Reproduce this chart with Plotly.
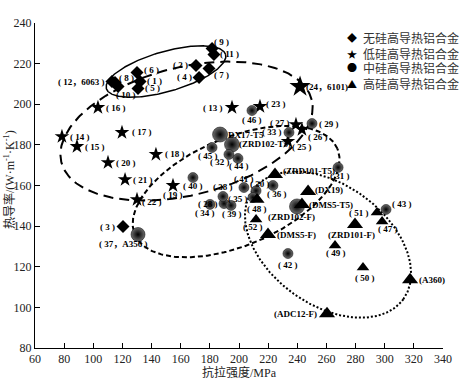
import numpy as np
import plotly.graph_objects as go

# ---------------- data ----------------
# 无硅高导热铝合金 (diamonds)
ns_labels = ["( 1 )", "( 2 )", "( 3 )", "( 4 )", "( 5 )", "( 6 )", "( 7 )", "( 8 )",
             "( 9 )", "( 10 )", "( 11 )", "( 12，6063 )"]
ns_x = [132.1, 170.5, 120.4, 172.6, 130.7, 130.0, 179.4, 114.9, 181.5, 117.0, 182.8, 112.8]
ns_y = [211.2, 219.1, 139.8, 213.2, 207.8, 215.6, 217.6, 210.7, 227.4, 208.7, 224.5, 211.2]

# 低硅高导热铝合金 (stars)
ls_labels = ["( 13 )", "( 14 )", "( 15 )", "( 16 )", "( 17 )", "( 18 )", "( 19 )", "( 20 )",
             "( 21 )", "( 22 )", "( 23 )", "(24，6101)", "( 25 )", "( 26 )", "( 27 )"]
ls_x = [195.2, 78.5, 88.8, 103.2, 119.7, 143.0, 154.7, 110.1, 121.8, 130.0, 214.4, 241.9, 233.6, 243.2, 239.1]
ls_y = [198.4, 184.1, 179.2, 198.4, 186.1, 175.3, 160.0, 171.3, 162.9, 153.1, 198.9, 208.7, 181.7, 187.6, 190.0]

# 中硅高导热铝合金 (balls)
ms_labels = ["DX17-T5", "(ZRD102-T5)", "( 28 )", "( 29 )", "( 30 )", "( 31 )", "( 32 )", "( 33 )",
             "( 34 )", "( 35 )", "( 36 )", "( 37，A356 )", "( 38 )", "( 39 )", "( 40 )", "( 41 )",
             "( 42 )", "( 43 )", "( 44 )", "( 45 )", "( 46 )", "(ZRD102-F)"]
ms_x = [187.0, 195.2, 189.7, 250.1, 211.7, 268.0, 193.1, 234.3, 180.1, 209.6, 223.3, 130.7,
        189.0, 194.5, 168.4, 203.4, 233.6, 300.9, 199.3, 181.5, 208.9, 239.8]
ms_y = [185.1, 180.2, 151.1, 190.5, 157.4, 168.9, 175.3, 186.1, 150.7, 154.1, 160.0, 135.9,
        154.6, 150.2, 163.9, 159.0, 126.5, 148.2, 173.3, 178.7, 196.9, 149.7]

# 高硅高导热铝合金 (triangles)
hs_labels = ["(ZRD101-T5)", "(DX19)", "(DMS5-T5)", "( 47 )", "( 48 )", "( 49 )", "( 50 )",
             "( 51 )", "( 52 )", "(DMS5-F)", "(ZRD101-F)", "(A360)", "(ADC12-F)"]
hs_x = [224.7, 247.4, 243.2, 298.2, 212.4, 265.9, 285.1, 294.7, 211.7, 219.9, 279.6, 317.4, 260.4]
hs_y = [165.4, 157.0, 150.6, 142.3, 153.1, 130.5, 119.6, 146.7, 143.3, 135.9, 140.8, 113.6, 96.9]

series_names = ["无硅高导热铝合金", "低硅高导热铝合金", "中硅高导热铝合金", "高硅高导热铝合金"]
x_ticks = list(range(60, 341, 20))
y_ticks = list(range(80, 241, 20))
x_title = "抗拉强度/MPa"
y_title = "热导率/(W·m<sup>-1</sup>·K<sup>-1</sup>)"

# ---------------- styles / positions ----------------
W, H = 462, 382
ML, MR, MT, MB = 35, 19, 23, 34
PW, PH = W - ML - MR, H - MT - MB
SX = PW / 280.0
SY = PH / 160.0

BIG = {"DX17-T5": 15, "(ZRD102-T5)": 15, "(ZRD102-F)": 15, "( 37，A356 )": 14,
       "(24，6101)": 16,
       "(ZRD101-T5)": 14, "(DX19)": 14, "(DMS5-T5)": 14, "(DMS5-F)": 14, "(ZRD101-F)": 14,
       "(A360)": 14, "(ADC12-F)": 14, "( 48 )": 13}

# label offsets: (anchor, dx px, dy px downward)
ns_off = [("l", 5, -1), ("r", -6, 0), ("r", -6, 0), ("r", -5, 0), ("l", 5, 0), ("l", 5, -3),
          ("l", 3, 6), ("l", 2, -5), ("l", 0, -7), ("c", 8, 8), ("l", 4, 0), ("r", -5, 0)]
ls_off = [("r", -7, 0), ("l", 6, 0), ("l", 6, 0), ("l", 6, 0), ("l", 8, 0), ("l", 7, 0),
          ("c", 0, 9), ("l", 6, 0), ("l", 6, 0), ("l", 3, 2), ("l", 4, -2), ("l", 4, 0),
          ("l", 2, 6), ("l", 4, 8), ("r", -4, -2)]
ms_off = [("l", 6, 0), ("l", 5, 0), ("r", -4, 0), ("l", 5, 0), ("c", 4, -7), ("c", 2, 9),
          ("c", -9, 8), ("r", -5, 0), ("c", -5, 9), ("r", -3, 2), ("c", 4, 8), ("r", 12, 10),
          ("c", 0, -9), ("c", 1, 9), ("c", 0, 8), ("c", 0, -9), ("c", 0, 11), ("l", 4, -5),
          ("c", 1, 8), ("c", -4, 8), ("c", 0, 9), ("c", -5, 11)]
hs_off = [("l", 6, -4), ("l", 5, -2), ("l", 5, 0), ("c", 6, 8), ("c", 0, 9), ("c", 1, 8),
          ("c", 2, 10), ("r", -6, 0), ("c", -3, 8), ("l", 7, 1), ("c", -3, 10), ("l", 7, 0),
          ("r", -8, 0)]

# ellipses: centre (data), semi-axes (px), tilt (deg, up-right positive), dash
ELLIPSES = [
    (149.9, 216.1, 62, 20, 16, "solid", 1.5),
    (164.0, 186.8, 129, 64, 14, "10px,6px", 2),
    (198.0, 157.0, 110, 54, 23, "5px,3px", 2),
    (261.1, 130.9, 93, 60, -36, "2px,2px", 2),
]

LABEL_FONT = dict(family="Liberation Serif, Noto Sans CJK SC", size=9, color="black")

fig = go.Figure()

t = np.linspace(0, 2 * np.pi, 300)
for cx, cy, a, b, ang, dash, lw in ELLIPSES:
    ph = np.deg2rad(ang)
    u, v = a * np.cos(t), b * np.sin(t)
    dx = u * np.cos(ph) - v * np.sin(ph)
    dy = u * np.sin(ph) + v * np.cos(ph)
    fig.add_trace(go.Scatter(x=cx + dx / SX, y=cy + dy / SY, mode="lines",
                             line=dict(color="black", width=lw, dash=dash),
                             hoverinfo="skip", showlegend=False))


def sizes(labels, base):
    return [BIG.get(l, base) for l in labels]


fig.add_trace(go.Scatter(x=ns_x, y=ns_y, mode="markers", name=series_names[0],
                         marker=dict(symbol="diamond", size=sizes(ns_labels, 10), color="black",
                                     opacity=1, line=dict(width=0)), showlegend=False))
fig.add_trace(go.Scatter(x=ls_x, y=ls_y, mode="markers", name=series_names[1],
                         marker=dict(symbol="star", size=sizes(ls_labels, 11), color="black",
                                     opacity=1, line=dict(width=0)), showlegend=False))
fig.add_trace(go.Scatter(x=ms_x, y=ms_y, mode="markers", name=series_names[2],
                         marker=dict(symbol="circle", size=sizes(ms_labels, 10), color="#6e6e6e",
                                     opacity=1, gradient=dict(type="radial", color="black"),
                                     line=dict(width=0.5, color="black")), showlegend=False))
fig.add_trace(go.Scatter(x=hs_x, y=hs_y, mode="markers", name=series_names[3],
                         marker=dict(symbol="triangle-up", size=sizes(hs_labels, 11), color="black",
                                     opacity=1, line=dict(width=0)), showlegend=False))

annotations = []
for labels, xs, ys, offs in [(ns_labels, ns_x, ns_y, ns_off), (ls_labels, ls_x, ls_y, ls_off),
                             (ms_labels, ms_x, ms_y, ms_off), (hs_labels, hs_x, hs_y, hs_off)]:
    for lab, x, y, (anc, dx, dy) in zip(labels, xs, ys, offs):
        xa = {"l": "left", "r": "right", "c": "center"}[anc]
        annotations.append(dict(x=x, y=y, xref="x", yref="y", text="<b>" + lab + "</b>",
                                showarrow=False, xanchor=xa, yanchor="middle",
                                xshift=dx, yshift=-dy, font=LABEL_FONT))

# legend (text glyphs)
glyphs = ["◆", "★", "●", "▲"]
rows_px = [38, 53, 68, 83]
for g, name, py in zip(glyphs, series_names, rows_px):
    yp = (H - MB - py) / PH
    annotations.append(dict(x=(352 - ML) / PW, y=yp, xref="paper", yref="paper", text=g,
                            showarrow=False, xanchor="center", yanchor="middle",
                            font=dict(family="Noto Sans CJK SC", size=10, color="black")))
    annotations.append(dict(x=(361 - ML) / PW, y=yp, xref="paper", yref="paper", text=name,
                            showarrow=False, xanchor="left", yanchor="middle",
                            font=dict(family="Noto Sans CJK SC", size=12, color="#333333")))

# axis titles
annotations.append(dict(x=0.5, y=(H - MB - 372) / PH, xref="paper", yref="paper", text=x_title,
                        showarrow=False, xanchor="center", yanchor="middle",
                        font=dict(family="Liberation Serif, Noto Sans CJK SC", size=12, color="#222")))
annotations.append(dict(x=(9 - ML) / PW, y=(H - MB - 180) / PH, xref="paper", yref="paper",
                        text=y_title, textangle=-90, showarrow=False,
                        xanchor="center", yanchor="middle",
                        font=dict(family="Liberation Serif, Noto Sans CJK SC", size=12, color="#222")))

axis_common = dict(showline=True, linecolor="black", linewidth=1, ticks="inside", ticklen=5,
                   tickcolor="black", showgrid=False, zeroline=False, mirror=False,
                   tickfont=dict(family="Liberation Serif", size=12, color="#222"))
fig.update_layout(
    width=W, height=H, margin=dict(l=ML, r=MR, t=MT, b=MB, autoexpand=False),
    paper_bgcolor="white", plot_bgcolor="white",
    xaxis=dict(range=[60, 340], tickvals=x_ticks, **axis_common),
    yaxis=dict(range=[80, 240], tickvals=y_ticks, **axis_common),
    annotations=annotations, showlegend=False,
)

fig.write_html("out.html", config={"displayModeBar": False},
               post_script="document.body.style.margin='0px';")
